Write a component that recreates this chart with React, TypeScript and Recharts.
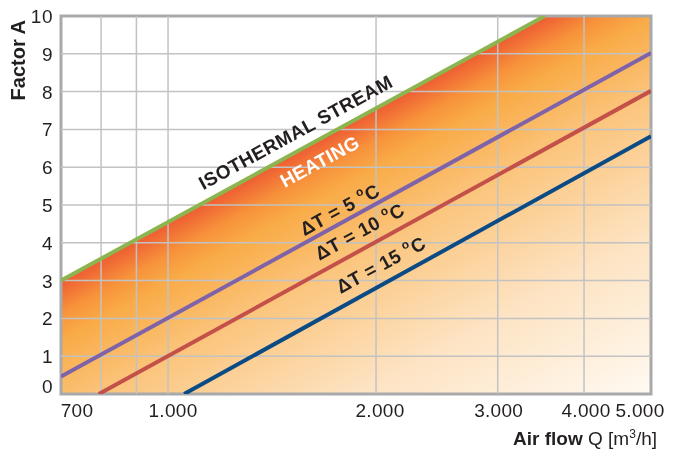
import { ComposedChart, XAxis, YAxis, Line, Area, ReferenceArea, ReferenceDot, Label } from 'recharts'

// air flow Q [m3/h] gridlines and the ones that carry a label
const xTicks = [700, 800, 900, 1000, 2000, 3000, 4000, 5000]
const xLabels = [700, 1000, 2000, 3000, 4000, 5000]
const yTicks = [0, 1, 2, 3, 4, 5, 6, 7, 8, 9, 10]

// heating zone (under the isothermal line)
const heatingZone = [
  { q: 700, a: 3 },
  { q: 3510, a: 10 },
  { q: 5000, a: 10 },
]
const isothermal = [
  { q: 700, a: 3 },
  { q: 3510, a: 10 },
]
const dt5 = [
  { q: 700, a: 0.46 },
  { q: 5000, a: 9.02 },
]
const dt10 = [
  { q: 794, a: 0 },
  { q: 5000, a: 8.02 },
]
const dt15 = [
  { q: 1055, a: 0 },
  { q: 5000, a: 6.82 },
]

const notes = [
  { q: 1530, a: 6.92, text: 'ISOTHERMAL STREAM', color: '#231f20', deg: false },
  { q: 1658, a: 6.15, text: 'HEATING', color: '#ffffff', deg: false },
  { q: 1772, a: 4.88, text: 'ΔT = 5 ', color: '#231f20', deg: true },
  { q: 1894, a: 4.3, text: 'ΔT = 10 ', color: '#231f20', deg: true },
  { q: 2032, a: 3.42, text: 'ΔT = 15 ', color: '#231f20', deg: true },
]

const FONT = '"Liberation Sans", Arial, Helvetica, sans-serif'
const ANGLE = -28.6
const GRID = '#c2c2c2'
const xMin = xTicks[0]
const xMax = xTicks[xTicks.length - 1]
const yMin = yTicks[0]
const yMax = yTicks[yTicks.length - 1]

// grid drawn as series; the gradient is multiplied so the grid shows through
const gridV = xTicks.slice(1, -1).map((v) => [{ q: v, a: yMin }, { q: v, a: yMax }])
const gridH = yTicks.slice(1, -1).map((v) => [{ q: xMin, a: v }, { q: xMax, a: v }])

const fmt = (n: number) =>
  n >= 1000 ? `${Math.floor(n / 1000)}.${String(n % 1000).padStart(3, '0')}` : String(n)

const xNudge: Record<number, number> = { 700: 16, 1000: 5, 2000: 4, 3000: 1, 4000: 2, 5000: -11 }

function XTick({ x, y, payload }: any) {
  const v = payload.value
  if (!xLabels.includes(v)) return <g />
  return (
    <text x={x + (xNudge[v] ?? 0)} y={y + 15} textAnchor="middle" fontSize={19} letterSpacing={0.3} fill="#231f20" fontFamily={FONT}>
      {fmt(v)}
    </text>
  )
}

function YTick({ x, y, payload }: any) {
  const v = payload.value
  return (
    <text x={x} y={y + (v === 0 ? -1 : 7)} textAnchor="end" fontSize={19} letterSpacing={0.5} fill="#231f20" fontFamily={FONT}>
      {v}
    </text>
  )
}

function Note(props: any) {
  const { cx, cy, note } = props
  return (
    <text
      x={cx}
      y={cy}
      transform={`rotate(${ANGLE} ${cx} ${cy})`}
      textAnchor="middle"
      dominantBaseline="central"
      fontSize={19}
      fontWeight="bold"
      letterSpacing={0.4}
      fill={note.color}
      fontFamily={FONT}
    >
      {note.text}
      {note.deg && (
        <>
          <tspan fontSize={12} dy={-6}>o</tspan>
          <tspan dy={6}>C</tspan>
        </>
      )}
    </text>
  )
}

export default function App() {
  return (
    <div style={{ position: 'absolute', left: 0, top: 0, width: 678, height: 451, background: '#fff' }}>
      <ComposedChart width={678} height={451} data={heatingZone} margin={{ top: 16, right: 27, bottom: 0, left: 0 }}>
        <defs>
          <linearGradient id="heat" gradientUnits="userSpaceOnUse" x1={61} y1={281} x2={253} y2={632}>
            <stop offset="0" stopColor="#ee5c32" />
            <stop offset="0.07" stopColor="#f7923b" />
            <stop offset="0.13" stopColor="#f9ab47" />
            <stop offset="0.3" stopColor="#fbc57d" />
            <stop offset="0.6" stopColor="#fde3c2" />
            <stop offset="1" stopColor="#fffdf8" />
          </linearGradient>
        </defs>
        <XAxis
          dataKey="q"
          type="number"
          scale="log"
          domain={[xMin, xMax]}
          allowDataOverflow
          ticks={xTicks}
          interval={0}
          height={57}
          axisLine={false}
          tickLine={false}
          tick={<XTick />}
        >
          <Label
            content={({ viewBox }: any) => (
              <text x={viewBox.x + viewBox.width + 6} y={viewBox.y + 51} textAnchor="end" fontSize={19} fill="#231f20" fontFamily={FONT}>
                <tspan fontWeight="bold">Air flow</tspan>
                <tspan> Q [m</tspan>
                <tspan fontSize={12} dy={-7}>3</tspan>
                <tspan dy={7}>/h]</tspan>
              </text>
            )}
          />
        </XAxis>
        <YAxis
          type="number"
          domain={[yMin, yMax]}
          allowDataOverflow
          ticks={yTicks}
          interval={0}
          width={61}
          axisLine={false}
          tickLine={false}
          tick={<YTick />}
        >
          <Label
            content={() => (
              <text x={25} y={20} transform="rotate(-90 25 20)" textAnchor="end" fontSize={20} fontWeight="bold" fill="#231f20" fontFamily={FONT}>
                Factor A
              </text>
            )}
          />
        </YAxis>
        <Area
          dataKey="a"
          type="linear"
          stroke="none"
          fill="url(#heat)"
          fillOpacity={1}
          style={{ mixBlendMode: 'multiply' }}
          isAnimationActive={false}
        />
        {gridV.map((d, i) => (
          <Line key={`gv${i}`} data={d} dataKey="a" type="linear" stroke={GRID} strokeWidth={1.5} dot={false} activeDot={false} isAnimationActive={false} />
        ))}
        {gridH.map((d, i) => (
          <Line key={`gh${i}`} data={d} dataKey="a" type="linear" stroke={GRID} strokeWidth={1.5} dot={false} activeDot={false} isAnimationActive={false} />
        ))}
        <Line data={isothermal} dataKey="a" type="linear" stroke="#8cb550" strokeWidth={4} dot={false} isAnimationActive={false} />
        <Line data={dt5} dataKey="a" type="linear" stroke="#7f63a9" strokeWidth={4} dot={false} isAnimationActive={false} />
        <Line data={dt10} dataKey="a" type="linear" stroke="#c4504a" strokeWidth={4} dot={false} isAnimationActive={false} />
        <Line data={dt15} dataKey="a" type="linear" stroke="#0a4a85" strokeWidth={4} dot={false} isAnimationActive={false} />
        <ReferenceArea x1={xMin} x2={xMax} y1={yMin} y2={yMax} fill="none" stroke="#a9a9ac" strokeWidth={3} />
        {notes.map((n) => (
          <ReferenceDot key={n.text} x={n.q} y={n.a} r={1} fill="none" stroke="none" shape={(p: any) => <Note {...p} note={n} />} />
        ))}
      </ComposedChart>
    </div>
  )
}
